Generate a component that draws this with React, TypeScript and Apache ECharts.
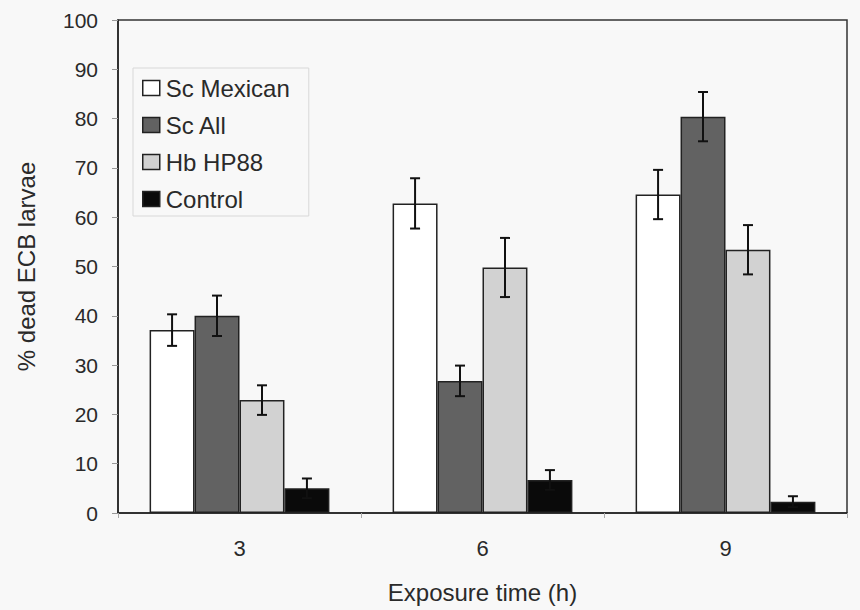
import React, { useEffect, useRef } from "react";
import * as echarts from "echarts";

const categories = ["3", "6", "9"];
const seriesNames = ["Sc Mexican", "Sc All", "Hb HP88", "Control"];
const scMexican = [37.1, 62.8, 64.6];
const scAll = [40.0, 26.8, 80.4];
const hbHP88 = [22.9, 49.8, 53.4];
const control = [5.0, 6.7, 2.3];
const scMexicanErr = [3.2, 5.1, 5.0];
const scAllErr = [4.1, 3.1, 5.0];
const hbHP88Err = [3.0, 6.0, 5.0];
const controlErr = [2.0, 2.0, 1.1];
const yTicks = [0, 10, 20, 30, 40, 50, 60, 70, 80, 90, 100];

const values = [scMexican, scAll, hbHP88, control];
const errors = [scMexicanErr, scAllErr, hbHP88Err, controlErr];
const fills = ["#ffffff", "#626262", "#d2d2d2", "#0a0a0a"];
const FONT = "Liberation Sans";
const TEXT = "#2a2a2a";
const CAT_GAP = 0.26;

export default function App() {
  const ref = useRef<HTMLDivElement>(null);
  useEffect(() => {
    if (!ref.current) return;
    const chart = echarts.init(ref.current, null, { renderer: "svg" });
    const barSeries = seriesNames.map((name, i) => ({
      name,
      type: "bar",
      data: values[i],
      barGap: "0%",
      barCategoryGap: CAT_GAP * 100 + "%",
      itemStyle: { color: fills[i], borderColor: "#222", borderWidth: 1.5 },
      z: 2,
    }));
    const errSeries = seriesNames.map((name, i) => ({
      name: name + " err",
      type: "custom",
      data: values[i].map((v, k) => [k, v, errors[i][k]]),
      z: 5,
      renderItem: (params: any, api: any) => {
        const k = api.value(0);
        const v = api.value(1);
        const e = api.value(2);
        const catW = api.size([1, 0])[0];
        const bw = (catW * (1 - CAT_GAP)) / 4;
        const c = api.coord([k, v]);
        const x = c[0] + (i - 1.5) * bw;
        const hi = api.coord([k, v + e])[1];
        const lo = api.coord([k, v - e])[1];
        const cap = 5;
        const style = { stroke: "#111", lineWidth: 2 };
        return {
          type: "group",
          children: [
            { type: "line", shape: { x1: x, y1: hi, x2: x, y2: lo }, style },
            { type: "line", shape: { x1: x - cap, y1: hi, x2: x + cap, y2: hi }, style },
            { type: "line", shape: { x1: x - cap, y1: lo, x2: x + cap, y2: lo }, style },
          ],
        };
      },
    }));
    chart.setOption({
      animation: false,
      backgroundColor: "#f8f8f8",
      grid: {
        left: 118,
        right: 13,
        top: 20,
        bottom: 97,
        show: true,
        borderColor: "#333",
        borderWidth: 1.5,
        backgroundColor: "transparent",
      },
      legend: {
        data: seriesNames,
        orient: "vertical",
        left: 133,
        top: 68,
        itemWidth: 17,
        itemHeight: 15,
        itemGap: 13,
        padding: [8, 19, 5, 9],
        borderColor: "#d8d8d8",
        borderWidth: 1,
        icon: "rect",
        textStyle: {
          fontFamily: FONT,
          fontSize: 24,
          lineHeight: 24,
          color: TEXT,
          padding: [0, 0, 0, 1],
        },
        itemStyle: { borderColor: "#222", borderWidth: 1.5 },
      },
      xAxis: {
        type: "category",
        data: categories,
        name: "Exposure time (h)",
        nameLocation: "middle",
        nameGap: 67,
        nameTextStyle: { fontFamily: FONT, fontSize: 24, color: TEXT },
        axisLine: { lineStyle: { color: "#222", width: 1.5 } },
        axisTick: { show: true, length: 5, lineStyle: { color: "#aaa" } },
        axisLabel: { fontFamily: FONT, fontSize: 22, color: TEXT, margin: 24 },
      },
      yAxis: {
        type: "value",
        min: yTicks[0],
        max: yTicks[yTicks.length - 1],
        interval: 10,
        name: "% dead ECB larvae",
        nameLocation: "middle",
        nameGap: 80,
        nameTextStyle: { fontFamily: FONT, fontSize: 24, color: TEXT },
        axisLine: { show: true, lineStyle: { color: "#222", width: 1.5 } },
        axisTick: { show: true, length: 6, lineStyle: { color: "#999" } },
        splitLine: { show: false },
        axisLabel: { fontFamily: FONT, fontSize: 21, color: TEXT, margin: 20 },
      },
      series: [...barSeries, ...errSeries],
    });
    return () => chart.dispose();
  }, []);
  return (
    <div
      ref={ref}
      style={{ position: "fixed", left: 0, top: 0, width: 860, height: 610 }}
    />
  );
}
